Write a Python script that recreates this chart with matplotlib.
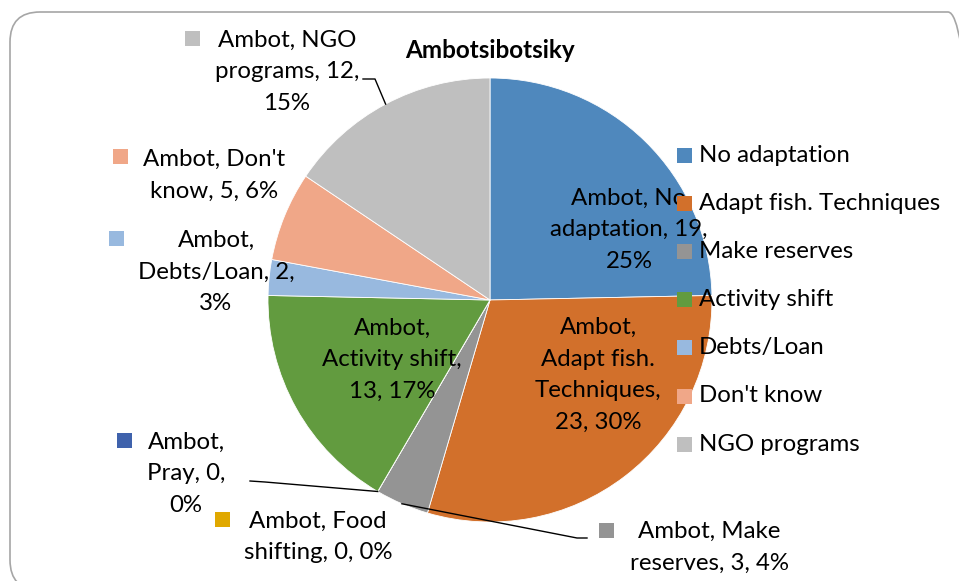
import matplotlib
matplotlib.use("Agg")
import matplotlib.pyplot as plt
from matplotlib.patches import FancyBboxPatch, Rectangle
import numpy as np

# ---------------- data ----------------
categories = ["No adaptation", "Adapt fish. Techniques", "Make reserves", "Pray",
              "Food shifting", "Activity shift", "Debts/Loan", "Don't know", "NGO programs"]
values = [19, 23, 3, 0, 0, 13, 2, 5, 12]
percents = [25, 30, 4, 0, 0, 17, 3, 6, 15]
series_name = "Ambot"
title = "Ambotsibotsiky"
colors = ["#4F88BD", "#D2702B", "#949494", "#3F62AC", "#E0A800",
          "#629B3F", "#98B9DF", "#F0A788", "#BFBFBF"]
legend_idx = [0, 1, 2, 5, 6, 7, 8]

# label layouts (line breaks as in the reference)
label_text = [
    f"{series_name}, No\nadaptation, {values[0]},\n{percents[0]}%",
    f"{series_name},\nAdapt fish.\nTechniques,\n{values[1]}, {percents[1]}%",
    f"{series_name}, Make\nreserves, {values[2]}, {percents[2]}%",
    f"{series_name},\nPray, {values[3]},\n{percents[3]}%",
    f"{series_name}, Food\nshifting, {values[4]}, {percents[4]}%",
    f"{series_name},\nActivity shift,\n{values[5]}, {percents[5]}%",
    f"{series_name},\nDebts/Loan, {values[6]},\n{percents[6]}%",
    f"{series_name}, Don't\nknow, {values[7]}, {percents[7]}%",
    f"{series_name}, NGO\nprograms, {values[8]},\n{percents[8]}%",
]

plt.rcParams['font.family'] = ['Lato', 'DejaVu Sans']
W, H = 959, 581
fig = plt.figure(figsize=(W / 100, H / 100), dpi=100)
ax = fig.add_axes([0, 0, 1, 1])

def P(x, y):
    return (x, H - y)

cx, cy, R = 490, 300, 222
wedges, _ = ax.pie(values, colors=colors, startangle=90, counterclock=False,
                   center=P(cx, cy), radius=R, frame=True,
                   wedgeprops=dict(edgecolor="white", linewidth=0.6))
ax.set_xlim(0, W)
ax.set_ylim(0, H)
ax.axis('off')

# border
border = FancyBboxPatch(P(10, 590), 968, 578, boxstyle="round,pad=0,rounding_size=30",
                        fc="none", ec="#A6A6A6", lw=1.2, zorder=0, clip_on=False)
ax.add_patch(border)

FS = 17.3
LS = 1.63

# title
ax.text(*P(490, 50), title, ha='center', va='center', fontsize=17.5,
        fontweight='bold', color='#000000')

# inside labels
inside = {0: (629, 230), 1: (598, 375), 5: (392, 360)}
for i, (x, y) in inside.items():
    ax.text(*P(x, y), label_text[i], ha='center', va='center', fontsize=FS,
            linespacing=LS, color='black', zorder=5)

# outside labels: (text centre, marker top-left)
outside = {
    8: ((287, 72), (185, 31)),
    7: ((214, 175), (113, 149)),
    6: ((216, 272), (109, 231)),
    3: ((186, 474), (117, 433)),
    4: ((318, 537), (215, 512)),
    2: ((709, 547), (599, 523)),
}
for i, ((x, y), (mx, my)) in outside.items():
    ax.text(*P(x, y), label_text[i], ha='center', va='center', fontsize=FS,
            linespacing=LS, color='black', zorder=5)
    ax.add_patch(Rectangle(P(mx, my + 15), 15, 15, fc=colors[i], ec='none', zorder=5))

# leader lines to slice mid-points on the rim
cum = np.cumsum([0] + values)
total = sum(values)
def rim(i):
    a = 90 - 360 * (cum[i] + values[i] / 2) / total
    return cx + R * np.cos(np.radians(a)), cy - R * np.sin(np.radians(a))

leaders = {8: [(363, 79), (375, 79)], 3: [(250, 481), (265, 482)], 2: [(587, 538), (577, 538)]}
for i, pts in leaders.items():
    rx, ry = rim(i)
    xs = [p[0] for p in pts] + [rx]
    ys = [H - p[1] for p in pts] + [H - ry]
    ax.plot(xs, ys, color='black', lw=1.0, zorder=4)

# legend (manual)
for k, i in enumerate(legend_idx):
    y = 155 + k * 48.2
    ax.add_patch(Rectangle(P(677, y + 7.5), 15, 15, fc=colors[i], ec='none', zorder=6))
    ax.text(*P(699, y), categories[i], ha='left', va='center', fontsize=FS,
            color='black', zorder=6)

fig.savefig("out.png", dpi=100)
